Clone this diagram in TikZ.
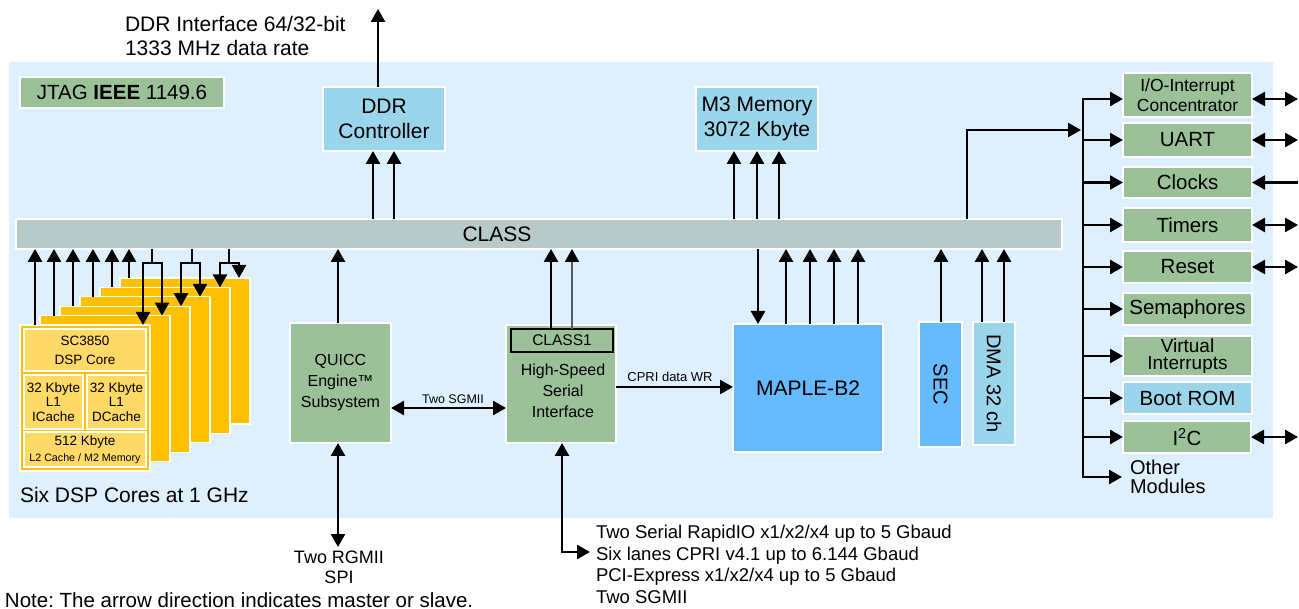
\documentclass[tikz,border=0pt]{standalone}
\usepackage{fontspec}
\usepackage{graphicx}
\setmainfont{Liberation Sans}
\usetikzlibrary{arrows.meta}
\frenchspacing
\definecolor{bgblue}{RGB}{222,240,254}
\definecolor{boxgreen}{RGB}{155,193,152}
\definecolor{boxlblue}{RGB}{155,213,235}
\definecolor{boxblue}{RGB}{102,187,255}
\definecolor{classgrey}{RGB}{183,201,201}
\definecolor{coreyel}{RGB}{255,192,0}
\definecolor{coreinner}{RGB}{255,217,102}
\definecolor{wiregrey}{RGB}{90,90,90}
\newcommand{\fsz}[2]{\fontsize{#1}{#2}\selectfont}
\begin{document}
\begin{tikzpicture}[x=1pt,y=-1pt,
  every node/.style={inner sep=0pt, outer sep=0pt},
  box/.style={draw=white, line width=1.6pt, align=center, text=black},
  core/.style={fill=coreyel, draw=white, line width=1.2pt, minimum width=130pt, minimum height=146pt},
  inner/.style={fill=coreinner, draw=white, line width=1.5pt, align=center},
  arr/.style={line width=2.6pt, -{Triangle[width=14pt,length=13pt]}},
  darr/.style={line width=2.6pt, {Triangle[width=14pt,length=13pt]}-{Triangle[width=14pt,length=13pt]}},
  rarr/.style={line width=2.6pt, {Triangle[width=14pt,length=13pt]}-},
  wire/.style={line width=2.6pt},
  lbl/.style={align=center, text=black}
]
\useasboundingbox (0,0) rectangle (1299,609);
% background panel
\fill[bgblue] (9,62) rectangle (1273,518);

% top text
\node[lbl, anchor=west, align=left, font=\fsz{21}{23.5}] (ddrtxt) at (125,36) {DDR Interface 64/32-bit\\1333 MHz data rate};

% JTAG
\node[box, fill=boxgreen, minimum width=204pt, minimum height=31pt, font=\fsz{20.5}{24}] (jtag) at (122,92.5) {JTAG \textbf{IEEE} 1149.6};

% DDR controller and M3
\node[box, fill=boxlblue, minimum width=122pt, minimum height=64pt, font=\fsz{21}{25}] (ddr) at (384,119) {DDR\\Controller};
\node[box, fill=boxlblue, minimum width=122pt, minimum height=64pt, font=\fsz{21}{25}] (m3) at (757,119) {M3 Memory\\3072 Kbyte};

% CLASS bar
\node[box, fill=classgrey, minimum width=1046pt, minimum height=30pt] (class) at (539,234) {};
\node[lbl, font=\fsz{21}{24}] (classtxt) at (497,234) {CLASS};

% DSP cores
\foreach \k in {6,5,4,3,2,1} {
  \node[core] (core\k) at ({85+20*(\k-1)}, {398-9.4*(\k-1)}) {};
}
\node[inner, minimum width=122pt, minimum height=42pt, font=\fsz{13.5}{19}] (dsp) at (85,350) {SC3850\\DSP Core};
\node[inner, minimum width=59pt, minimum height=54pt, font=\fsz{13.5}{14.5}] (icache) at (53.5,402) {32 Kbyte\\L1\\ICache};
\node[inner, minimum width=59pt, minimum height=54pt, font=\fsz{13.5}{14.5}] (dcache) at (116.5,402) {32 Kbyte\\L1\\DCache};
\node[inner, minimum width=122pt, minimum height=35pt, font=\fsz{13.5}{16}] (ltwo) at (85,449.5) {512 Kbyte\\{\fsz{10.7}{16}L2 Cache / M2 Memory}};
\node[lbl, anchor=west, font=\fsz{21}{24}] (sixtxt) at (20,494.5) {Six DSP Cores at 1 GHz};

% QUICC
\node[box, fill=boxgreen, minimum width=101pt, minimum height=120pt, font=\fsz{16}{21}] (quicc) at (340.5,383) {QUICC\\Engine™\\Subsystem};
% HSSI
\node[box, fill=boxgreen, minimum width=110pt, minimum height=118pt] (hssi) at (561,384) {};
\node[draw=black, line width=2pt, fill=boxgreen, minimum width=102pt, minimum height=23pt, font=\fsz{15.5}{18}] (class1) at (562,340.5) {CLASS1};
\node[lbl, font=\fsz{16}{21}] (hssitxt) at (563,391) {High-Speed\\Serial\\Interface};
% MAPLE, SEC, DMA
\node[box, fill=boxblue, minimum width=150pt, minimum height=128pt, font=\fsz{21}{24}] (maple) at (808,388) {MAPLE-B2};
\node[box, fill=boxblue, minimum width=43pt, minimum height=125pt, font=\fsz{20}{24}] (sec) at (940.5,384.5) {\rotatebox{-90}{SEC}};
\node[box, fill=boxlblue, minimum width=42pt, minimum height=123pt, font=\fsz{20}{24}] (dma) at (994,383.5) {\rotatebox{-90}{DMA 32 ch}};

% right modules
\node[box, fill=boxgreen, minimum width=129pt, minimum height=44pt, font=\fsz{17.5}{19.5}] (ioc) at (1187.5,95) {I/O-Interrupt\\Concentrator};
\node[box, fill=boxgreen, minimum width=129pt, minimum height=34pt, font=\fsz{20.5}{24}] (uart) at (1187.5,140) {UART};
\node[box, fill=boxgreen, minimum width=129pt, minimum height=31pt, font=\fsz{20.5}{24}] (clocks) at (1187.5,182.5) {Clocks};
\node[box, fill=boxgreen, minimum width=129pt, minimum height=34pt, font=\fsz{20.5}{24}] (timers) at (1187.5,225) {Timers};
\node[box, fill=boxgreen, minimum width=129pt, minimum height=32pt, font=\fsz{20.5}{24}] (reset) at (1187.5,267) {Reset};
\node[box, fill=boxgreen, minimum width=129pt, minimum height=32pt, font=\fsz{20.5}{24}] (sem) at (1187.5,309) {Semaphores};
\node[box, fill=boxgreen, minimum width=129pt, minimum height=40pt, font=\fsz{19}{17.5}] (virt) at (1187.5,356) {Virtual\\Interrupts};
\node[box, fill=boxlblue, minimum width=129pt, minimum height=32pt, font=\fsz{20.5}{24}] (boot) at (1187.5,398) {Boot ROM};
\node[box, fill=boxgreen, minimum width=128pt, minimum height=32pt, font=\fsz{20.5}{24}] (i2c) at (1187,437) {I\textsuperscript{2}C};
\node[lbl, anchor=west, align=left, font=\fsz{20}{18.5}] (other) at (1130,477) {Other\\Modules};

% coordinates for free ends
\coordinate (ddrout) at (378,9);
\coordinate (rgmii) at (338,547);
\coordinate (serout) at (590,552);
\coordinate (busin) at (1081,130);
\coordinate (bustop) at (1083,99);
\coordinate (redge) at (1298,0);

% DDR / M3 arrows
\draw[arr] (ddr.north -| 378,0) -- (ddrout);
\foreach \xx in {373,394} \draw[arr] (class.north -| \xx,0) -- (ddr.south -| \xx,0);
\foreach \xx in {734,757,779} \draw[arr] (class.north -| \xx,0) -- (m3.south -| \xx,0);

% core arrows
\foreach \k/\xx in {1/35,2/54,3/73,4/93,5/112,6/129}
  \draw[arr] (core\k.north -| \xx,0) -- (class.south -| \xx,0);
\foreach \s/\a/\b/\ka/\kb in {152/143/162/1/2, 192/181/200/3/4, 229/220/239/5/6} {
  \coordinate (j\s) at (\s,263);
  \draw[wire] (class.south -| \s,0) -- (j\s);
  \draw[arr] (j\s) -| (core\ka.north -| \a,0);
  \draw[arr] (j\s) -| (core\kb.north -| \b,0);
}

% QUICC arrows
\draw[arr] (quicc.north -| 338,0) -- (class.south -| 338,0);
\draw[darr] (quicc.south -| 338,0) -- (rgmii);
\node[lbl, font=\fsz{18}{20}] (rgmiitxt) at (339,567) {Two RGMII\\SPI};
\draw[darr] (quicc.east |- 0,408) -- (hssi.west |- 0,408);
\node[lbl, font=\fsz{12.5}{14}] (sgmiitxt) at (453,399) {Two SGMII};

% HSSI arrows
\draw[arr] (class1.north -| 551,0) -- (class.south -| 551,0);
\draw[line width=2pt, draw=wiregrey, -{Triangle[width=14pt,length=13pt,color=black]}] (class1.north -| 572,0) -- (class.south -| 572,0);
\draw[arr] (hssi.east |- 0,387) -- (maple.west |- 0,387);
\node[lbl, font=\fsz{13}{15}] (cpritxt) at (670,377) {CPRI data WR};
\draw[darr] (hssi.south -| 562,0) |- (serout);
\node[lbl, anchor=west, align=left, font=\fsz{18.5}{21.7}] (sertxt) at (596,564.5) {Two Serial RapidIO x1/x2/x4 up to 5 Gbaud\\Six lanes CPRI v4.1 up to 6.144 Gbaud\\PCI-Express x1/x2/x4 up to 5 Gbaud\\Two SGMII};

% MAPLE arrows
\draw[arr] (class.south -| 758,0) -- (maple.north -| 758,0);
\foreach \xx in {786,810,834,858} \draw[arr] (maple.north -| \xx,0) -- (class.south -| \xx,0);
% SEC / DMA arrows
\draw[arr] (sec.north -| 941,0) -- (class.south -| 941,0);
\foreach \xx in {982,1004} \draw[arr] (dma.north -| \xx,0) -- (class.south -| \xx,0);

% bus to right modules
\draw[arr] (class.north -| 967,0) |- (busin);
\draw[wire, line cap=rect] (bustop) -- (bustop |- other.west);
\draw[arr] (bustop) -- (ioc.west |- bustop);
\foreach \m in {uart,clocks,timers,reset,sem,virt,boot,i2c}
  \draw[arr] (bustop |- \m.west) -- (\m.west);
\draw[arr] (bustop |- other.west) -- ([xshift=-8pt]other.west);

% external right arrows
\draw[darr] (ioc.east |- bustop) -- (redge |- bustop);
\foreach \m in {uart,timers,reset,i2c}
  \draw[darr] (\m.east) -- (\m.east -| redge);
\draw[rarr] (clocks.east) -- (clocks.east -| redge);

% note
\node[lbl, anchor=west, font=\fsz{20.5}{24}] (note) at (5,600) {Note: The arrow direction indicates master or slave.};
\end{tikzpicture}
\end{document}
